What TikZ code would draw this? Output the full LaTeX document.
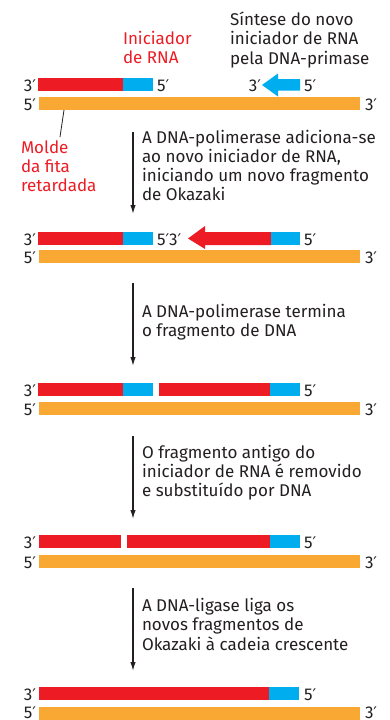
\documentclass[tikz,border=0pt]{standalone}
\usepackage{fontspec}
\setmainfont{Fira Sans}
\newfontfamily\primefont{DejaVu Sans}
\newcommand{\pr}{{\primefont\fontsize{16}{16}\selectfont ′}}
\usetikzlibrary{arrows.meta}
\definecolor{dnared}{HTML}{ED1C24}
\definecolor{rnablue}{HTML}{00AEEF}
\definecolor{tmpl}{HTML}{F9A933}
\definecolor{txt}{HTML}{231F20}
\begin{document}
\begin{tikzpicture}[x=1pt,y=-1pt,
  every node/.style={inner sep=0pt, outer sep=0pt, text=txt, font=\fontsize{17}{19.2}\selectfont},
  endl/.style={anchor=base east},
  endr/.style={anchor=base west},
  para/.style={anchor=base west, align=left},
  redlabel/.style={anchor=base west, align=left, text=dnared},
  steparrow/.style={draw=txt, line width=1.4pt, -{Latex[length=9pt,width=5.5pt]}},
  red/.style={fill=dnared},
  blue/.style={fill=rnablue},
  tpl/.style={fill=tmpl}]
\useasboundingbox (0,0) rectangle (389,720);

% ---------- panel 1 ----------
\fill[red] (38,78) rectangle (123,91);
\fill[blue] (123,78) rectangle (153,91);
\fill[tpl] (39,97) rectangle (360,110);
\node[endl] (p1a) at (36,91) {3\pr};
\node[endr] (p1b) at (157,91) {5\pr};
\node[endl] (p1c) at (36,110) {5\pr};
\node[endr] (p1d) at (365,110) {3\pr};
\fill[blue] (262,85) -- (278,73.5) -- (278,79) -- (300,79) -- (300,90.5) -- (278,90.5) -- (278,96.5) -- cycle;
\node[endl] (p1e) at (261,91) {3\pr};
\node[endr] (p1f) at (304,91) {5\pr};
\node[para] (t0) at (230,64) {Síntese do novo\\iniciador de RNA\\pela DNA-primase};
\node[redlabel] (prim) at (123,63.5) {Iniciador\\de RNA};
\node[redlabel] (molde) at (21,191.7) {Molde\\da fita\\retardada};
\coordinate (m1) at (64,110);
\coordinate (m2) at (60,137);
\draw[txt, line width=0.8pt] (m1) -- (m2);

% ---------- arrow 1 ----------
\coordinate (a1s) at (133,132);
\coordinate (a1e) at (133,214);
\draw[steparrow] (a1s) -- (a1e);
\node[para] (t1) at (142,200.7) {A DNA-polimerase adiciona-se\\ao novo iniciador de RNA,\\iniciando um novo fragmento\\de Okazaki};

% ---------- panel 2 ----------
\fill[red] (38,232) rectangle (123,245);
\fill[blue] (123,232) rectangle (153,245);
\fill[red] (188,238.5) -- (205,226) -- (205,232) -- (271,232) -- (271,245) -- (205,245) -- (205,249) -- cycle;
\fill[blue] (271,232) rectangle (300,245);
\fill[tpl] (39,250) rectangle (360,263);
\node[endl] (p2a) at (36,245) {3\pr};
\node[endr] (p2b) at (157,245) {5\pr3\pr};
\node[endr] (p2c) at (304,245) {5\pr};
\node[endl] (p2d) at (36,263) {5\pr};
\node[endr] (p2e) at (365,263) {3\pr};

% ---------- arrow 2 ----------
\coordinate (a2s) at (133,283);
\coordinate (a2e) at (133,366);
\draw[steparrow] (a2s) -- (a2e);
\node[para] (t2) at (142,336.7) {A DNA-polimerase termina\\o fragmento de DNA};

% ---------- panel 3 ----------
\fill[red] (38,383) rectangle (123,396);
\fill[blue] (123,383) rectangle (153,396);
\fill[red] (159,383) rectangle (270,396);
\fill[blue] (270,383) rectangle (300,396);
\fill[tpl] (39,402) rectangle (360,415);
\node[endl] (p3a) at (36,396) {3\pr};
\node[endr] (p3b) at (304,396) {5\pr};
\node[endl] (p3c) at (36,415) {5\pr};
\node[endr] (p3d) at (365,415) {3\pr};

% ---------- arrow 3 ----------
\coordinate (a3s) at (133,436);
\coordinate (a3e) at (133,519);
\draw[steparrow] (a3s) -- (a3e);
\node[para] (t3) at (142,496.7) {O fragmento antigo do\\iniciador de RNA é removido\\e substituído por DNA};

% ---------- panel 4 ----------
\fill[red] (39,535) rectangle (121,548);
\fill[red] (127,535) rectangle (270,548);
\fill[blue] (270,535) rectangle (300,548);
\fill[tpl] (39,555) rectangle (360,568);
\node[endl] (p4a) at (36,548) {3\pr};
\node[endr] (p4b) at (304,548) {5\pr};
\node[endl] (p4c) at (36,568) {5\pr};
\node[endr] (p4d) at (365,568) {3\pr};

% ---------- arrow 4 ----------
\coordinate (a4s) at (133,588);
\coordinate (a4e) at (133,671);
\draw[steparrow] (a4s) -- (a4e);
\node[para] (t4) at (142,650) {A DNA-ligase liga os\\novos fragmentos de\\Okazaki à cadeia crescente};

% ---------- panel 5 ----------
\fill[red] (39,687) rectangle (269,700);
\fill[blue] (269,687) rectangle (299,700);
\fill[tpl] (39,707) rectangle (360,720);
\node[endl] (p5a) at (36,700) {3\pr};
\node[endr] (p5b) at (304,700) {5\pr};
\node[endl] (p5c) at (36,718) {5\pr};
\node[endr] (p5d) at (365,718) {3\pr};
\end{tikzpicture}
\end{document}
